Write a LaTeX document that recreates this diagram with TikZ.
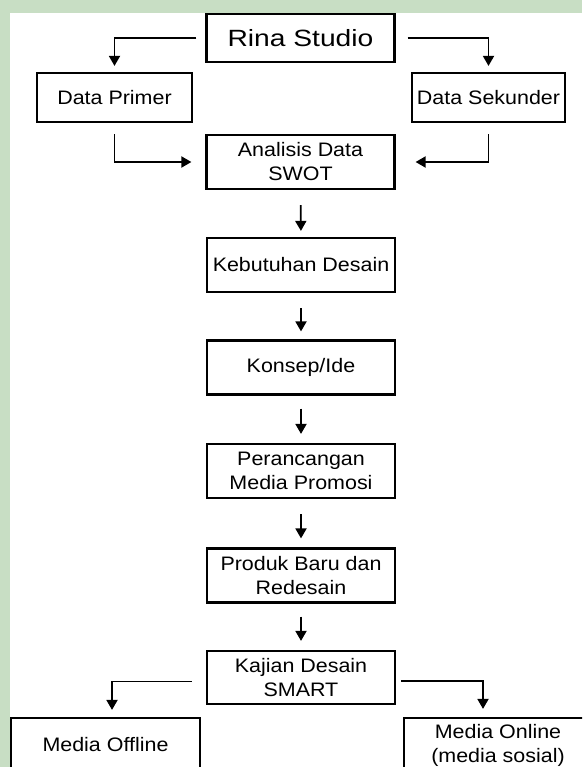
\documentclass[tikz,border=0pt]{standalone}
\usepackage{fontspec}
\usetikzlibrary{arrows.meta}
\newfontfamily\boxfont[FakeStretch=1.1]{Liberation Sans}
\newfontfamily\titlefont[FakeStretch=1.2]{Liberation Sans}
\definecolor{wmgreen}{RGB}{200,222,196}
\begin{document}
\begin{tikzpicture}[x=1pt, y=-1pt,
    box/.style={draw, line width=2.2pt, align=center, inner sep=0pt,
        minimum width=188pt, minimum height=54pt,
        font=\boxfont\fontsize{19.5}{24}\selectfont},
    sidebox/.style={box, minimum width=155pt, minimum height=49pt},
    arr/.style={line width=1.8pt, -{Triangle[length=10pt, width=11pt]}}]
    \useasboundingbox (0,0) rectangle (582,767);
    \clip (0,0) rectangle (582,767);
    \fill[wmgreen] (0,0) rectangle (582,767);
    \fill[white] (10,13) rectangle (582,767);
    \node[box, minimum height=48pt, font=\titlefont\fontsize{23.5}{28}\selectfont] (rina) at (300.5,38) {Rina Studio};
    \node[sidebox] (primer) at (114.5,97.5) {Data Primer};
    \node[sidebox, minimum width=153pt] (sekunder) at (488.5,97.5) {Data Sekunder};
    \node[box] (analisis) at (300.5,162) {Analisis Data\\SWOT};
    \node[box] (kebutuhan) at (301,265) {Kebutuhan Desain};
    \node[box] (konsep) at (301,367.5) {Konsep/Ide};
    \node[box] (perancangan) at (301,471) {Perancangan\\Media Promosi};
    \node[box] (produk) at (301,575.5) {Produk Baru dan\\Redesain};
    \node[box, minimum height=53pt] (kajian) at (301,677.5) {Kajian Desain\\SMART};
    \node[box, minimum width=189pt] (offline) at (105.5,745) {Media Offline};
    \node[box] (online) at (498,745) {Media Online\\(media sosial)};
    \draw[arr, shorten <=9pt, shorten >=6pt] (rina.west) -| (primer.north);
    \draw[arr, shorten <=12pt, shorten >=6pt] (rina.east) -| (sekunder.north);
    \draw[arr, shorten <=11pt, shorten >=14pt] (primer.south) |- (analisis.west);
    \draw[arr, shorten <=11pt, shorten >=20pt] (sekunder.south) |- (analisis.east);
    \draw[arr, shorten <=15pt, shorten >=6pt] (analisis.south) -- (kebutuhan.north);
    \draw[arr, shorten <=15pt, shorten >=8pt] (kebutuhan.south) -- (konsep.north);
    \draw[arr, shorten <=13pt, shorten >=9pt] (konsep.south) -- (perancangan.north);
    \draw[arr, shorten <=15pt, shorten >=9pt] (perancangan.south) -- (produk.north);
    \draw[arr, shorten <=13pt, shorten >=9pt] (produk.south) -- (kajian.north);
    \draw[arr, shorten <=14pt, shorten >=7pt] ([yshift=-4pt]kajian.west) -| ([xshift=6.5pt]offline.north);
    \draw[arr, shorten <=5pt, shorten >=8pt] ([yshift=-3.5pt]kajian.east) -| ([xshift=-15pt]online.north);
\end{tikzpicture}
\end{document}
